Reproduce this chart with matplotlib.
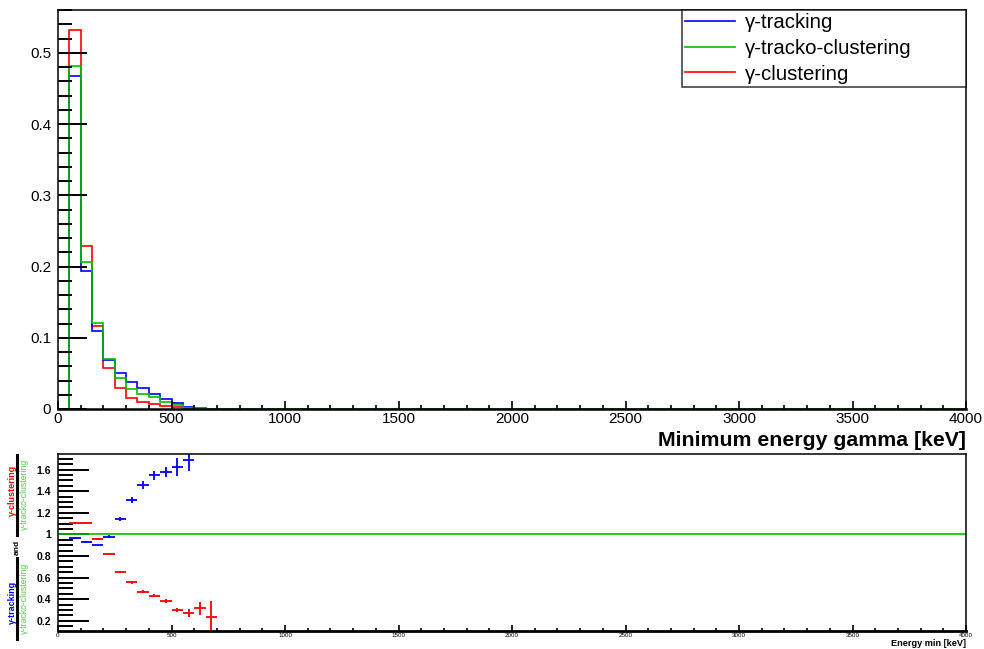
import numpy as np
import matplotlib
matplotlib.use("Agg")
import matplotlib.pyplot as plt
from matplotlib.lines import Line2D
from matplotlib.ticker import MultipleLocator

plt.rcParams['font.family'] = ['Liberation Sans', 'DejaVu Sans']

# histogram: 50 keV bins, first filled bin starts at 50 keV
bin_width = 50
first_edge = 50
tracking = [0.467, 0.193, 0.1096, 0.0688, 0.050, 0.0375, 0.029, 0.0206, 0.014, 0.008, 0.0033, 0.0012, 0.0005]
tracko_clustering = [0.481, 0.207, 0.1212, 0.0702, 0.044, 0.028, 0.0206, 0.0173, 0.0103, 0.0056, 0.002, 0.0008, 0.0004]
clustering = [0.532, 0.229, 0.1166, 0.058, 0.029, 0.016, 0.0094, 0.0066, 0.0042, 0.003, 0.001, 0.0005, 0.0002]

# ratios to tracko-clustering (bin centres in keV)
ratio_blue_x = [75, 125, 175, 225, 275, 325, 375, 425, 475, 525, 575]
ratio_blue = [0.969, 0.93, 0.898, 0.978, 1.145, 1.315, 1.454, 1.546, 1.577, 1.623, 1.685]
ratio_blue_err = [0.008, 0.008, 0.008, 0.012, 0.019, 0.028, 0.037, 0.04, 0.046, 0.083, 0.093]
ratio_red_x = [75, 125, 175, 225, 275, 325, 375, 425, 475, 525, 575, 625, 675]
ratio_red = [1.107, 1.105, 0.96, 0.82, 0.654, 0.556, 0.469, 0.432, 0.382, 0.299, 0.268, 0.315, 0.237]
ratio_red_err = [0.008, 0.008, 0.008, 0.01, 0.01, 0.012, 0.015, 0.015, 0.018, 0.02, 0.037, 0.062, 0.145]

BLUE = '#0000ff'
GREEN = '#00c000'
RED = '#ff0000'

W, H = 984, 649
fig = plt.figure(figsize=(W / 100, H / 100), dpi=100)


def px_rect(x0, y0, x1, y1):
    return [x0 / W, 1 - y1 / H, (x1 - x0) / W, (y1 - y0) / H]


ax = fig.add_axes(px_rect(58, 10, 966, 409))
ax2 = fig.add_axes(px_rect(58, 454, 966, 631))

n_bins = int(4000 / bin_width)
edges = np.arange(n_bins + 1) * bin_width
start = first_edge // bin_width


def full_hist(vals):
    h = np.zeros(n_bins)
    h[start:start + len(vals)] = vals
    return h


ax.stairs(full_hist(clustering), edges, color=RED, lw=1.2, label='γ-clustering')
ax.stairs(full_hist(tracking), edges, color=BLUE, lw=1.2, label='γ-tracking')
ax.stairs(full_hist(tracko_clustering), edges, color=GREEN, lw=1.2, label='γ-tracko-clustering')

ax.set_xlim(0, 4000)
ax.set_ylim(0, 0.56)
for a in (ax, ax2):
    for s in a.spines.values():
        s.set_linewidth(1.1)
ax.spines['bottom'].set_linewidth(1.8)

ax.xaxis.set_major_locator(MultipleLocator(500))
ax.xaxis.set_minor_locator(MultipleLocator(100))
ax.yaxis.set_major_locator(MultipleLocator(0.1))
ax.yaxis.set_minor_locator(MultipleLocator(0.02))
ax.tick_params(axis='both', which='both', direction='in', top=False, right=False, labelsize=11)
ax.tick_params(axis='y', which='major', length=21, width=1.4, pad=5)
ax.tick_params(axis='y', which='minor', length=10, width=1.4)
ax.tick_params(axis='x', which='major', length=6, width=1.2, pad=2)
ax.tick_params(axis='x', which='minor', length=3, width=1.2)
ax.yaxis.set_major_formatter(plt.FuncFormatter(lambda v, p: '0' if abs(v) < 1e-9 else f'{v:g}'))

# legend box spans 682..966 px wide, like the ROOT pad legend
handles, labels = ax.get_legend_handles_labels()
order = [1, 2, 0]
leg_w = (966 - 682) / (966 - 58)
leg = ax.legend([handles[i] for i in order], [labels[i] for i in order],
                loc='upper right', bbox_to_anchor=(1.0 - leg_w, 0.0, leg_w, 1.0),
                mode='expand', borderaxespad=0,
                fontsize=14.7, frameon=True, fancybox=False, edgecolor='black',
                handlelength=2.45, handletextpad=0.5, labelspacing=0.33,
                borderpad=0.15)
leg.get_frame().set_linewidth(1.1)
for lh in leg.get_lines():
    lh.set_linewidth(1.2)

fig.text(966 / W, 1 - 446 / H, 'Minimum energy gamma [keV]', ha='right', va='baseline',
         fontsize=15.3, fontweight='bold')

# ratio panel
ax2.axhline(1.0, color=GREEN, lw=1.2)
ax2.errorbar(ratio_blue_x, ratio_blue, xerr=bin_width / 2, yerr=ratio_blue_err,
             fmt='none', ecolor=BLUE, elinewidth=1.3, capsize=0)
ax2.errorbar(ratio_red_x, ratio_red, xerr=bin_width / 2, yerr=ratio_red_err,
             fmt='none', ecolor=RED, elinewidth=1.3, capsize=0)
ax2.set_xlim(0, 4000)
ax2.set_ylim(0.105, 1.745)
ax2.spines['bottom'].set_linewidth(2.0)
ax2.xaxis.set_major_locator(MultipleLocator(500))
ax2.xaxis.set_minor_locator(MultipleLocator(100))
ax2.yaxis.set_major_locator(MultipleLocator(0.2))
ax2.yaxis.set_minor_locator(MultipleLocator(0.05))
ax2.tick_params(axis='both', which='both', direction='in', top=False, right=False)
ax2.tick_params(axis='y', which='major', length=22, width=1.4, pad=5, labelsize=7.5)
ax2.tick_params(axis='y', which='minor', length=11, width=1.4)
ax2.tick_params(axis='x', which='major', length=4, width=1.2, pad=1.5, labelsize=4.5)
ax2.tick_params(axis='x', which='minor', length=2, width=1.2)
for t in ax2.get_yticklabels():
    t.set_fontweight('bold')
ax2.yaxis.set_major_formatter(plt.FuncFormatter(lambda v, p: f'{v:g}'))

fig.text(966 / W, 1 - 646 / H, 'Energy min [keV]', ha='right', va='baseline',
         fontsize=6.6, fontweight='bold')

# ratio y-axis title built from pieces
fig.text(12 / W, 1 - 490 / H, 'γ-clustering', rotation=90, ha='center', va='center',
         fontsize=6.5, fontweight='bold', color=RED)
fig.text(24 / W, 1 - 494 / H, 'γ-tracko-clustering', rotation=90, ha='center', va='center',
         fontsize=6.2, color='#55cc55')
fig.text(17.5 / W, 1 - 547 / H, 'and', rotation=90, ha='center', va='center',
         fontsize=6, fontweight='bold', color='black')
fig.text(12 / W, 1 - 602 / H, 'γ-tracking', rotation=90, ha='center', va='center',
         fontsize=6.5, fontweight='bold', color=BLUE)
fig.text(24 / W, 1 - 598 / H, 'γ-tracko-clustering', rotation=90, ha='center', va='center',
         fontsize=6.2, color='#55cc55')
for y0, y1 in [(455, 535), (558, 639)]:
    fig.add_artist(Line2D([16.5 / W, 16.5 / W], [1 - y0 / H, 1 - y1 / H],
                          color='black', lw=2.2, transform=fig.transFigure))

fig.savefig('out.png', dpi=100)
